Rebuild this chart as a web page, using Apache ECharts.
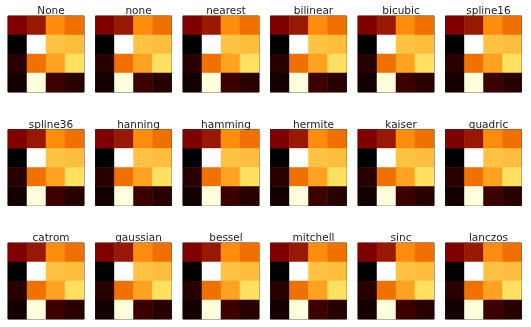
<!DOCTYPE html>
<html><head><meta charset="utf-8">
<script src="https://cdn.jsdelivr.net/npm/echarts@6/dist/echarts.min.js"></script>
<style>html,body{margin:0;padding:0;background:#fff}#c{width:531px;height:327px}</style>
</head><body><div id="c"></div>
<script>
var methods = ['None','none','nearest','bilinear','bicubic','spline16','spline36','hanning','hamming','hermite','kaiser','quadric','catrom','gaussian','bessel','mitchell','sinc','lanczos'];
var cols = ['0','1','2','3'];
var rows = ['0','1','2','3'];
var row0 = [0.25, 0.30, 0.525, 0.47];
var row1 = [0.0, 1.0, 0.63, 0.62];
var row2 = [0.08, 0.47, 0.565, 0.69];
var row3 = [0.04, 0.93, 0.12, 0.08];
var grid4 = [row0, row1, row2, row3];

// matplotlib 'afmhot' colormap sampled into colour stops
function afmhot(t){
  var cl = function(v){ return Math.max(0, Math.min(1, v)); };
  var r = cl(2 * t), g = cl(2 * t - 0.5), b = cl(2 * t - 1);
  return 'rgb(' + Math.round(r*255) + ',' + Math.round(g*255) + ',' + Math.round(b*255) + ')';
}
var cmapStops = [];
for (var k = 0; k <= 200; k++) cmapStops.push(afmhot(k / 200));

var chart = echarts.init(document.getElementById('c'));
var lefts = [8, 95.5, 183, 270.5, 358, 445.5];
var tops = [16, 129.5, 243];
var W = 76, H = 76;
var grids = [], xAxes = [], yAxes = [], series = [], titles = [];
var cells = [];
grid4.forEach(function(r, ri){ r.forEach(function(v, ci){ cells.push([ci, ri, v]); }); });
methods.forEach(function(m, i){
  var c = i % 6, r = Math.floor(i / 6);
  grids.push({left: lefts[c], top: tops[r], width: W, height: H, show: true, borderColor: '#333', borderWidth: 1, backgroundColor: 'transparent'});
  xAxes.push({type: 'category', data: cols, gridIndex: i, axisLine: {show: false}, axisTick: {show: false}, axisLabel: {show: false}, splitLine: {show: false}});
  yAxes.push({type: 'category', data: rows, gridIndex: i, inverse: true, axisLine: {show: false}, axisTick: {show: false}, axisLabel: {show: false}, splitLine: {show: false}});
  series.push({type: 'heatmap', xAxisIndex: i, yAxisIndex: i, data: cells, itemStyle: {borderWidth: 0}, emphasis: {disabled: true}, z: 1});
  titles.push({text: m, left: lefts[c] + W / 2, top: tops[r] - 15, textAlign: 'center',
    textStyle: {fontFamily: 'DejaVu Sans', fontSize: 10.5, fontWeight: 'normal', color: '#222'}});
});
chart.setOption({
  animation: false,
  title: titles,
  grid: grids, xAxis: xAxes, yAxis: yAxes,
  visualMap: {show: false, min: 0, max: 1, calculable: false, seriesIndex: series.map(function(s, i){return i;}),
    inRange: {color: cmapStops}},
  series: series
});
</script></body></html>
